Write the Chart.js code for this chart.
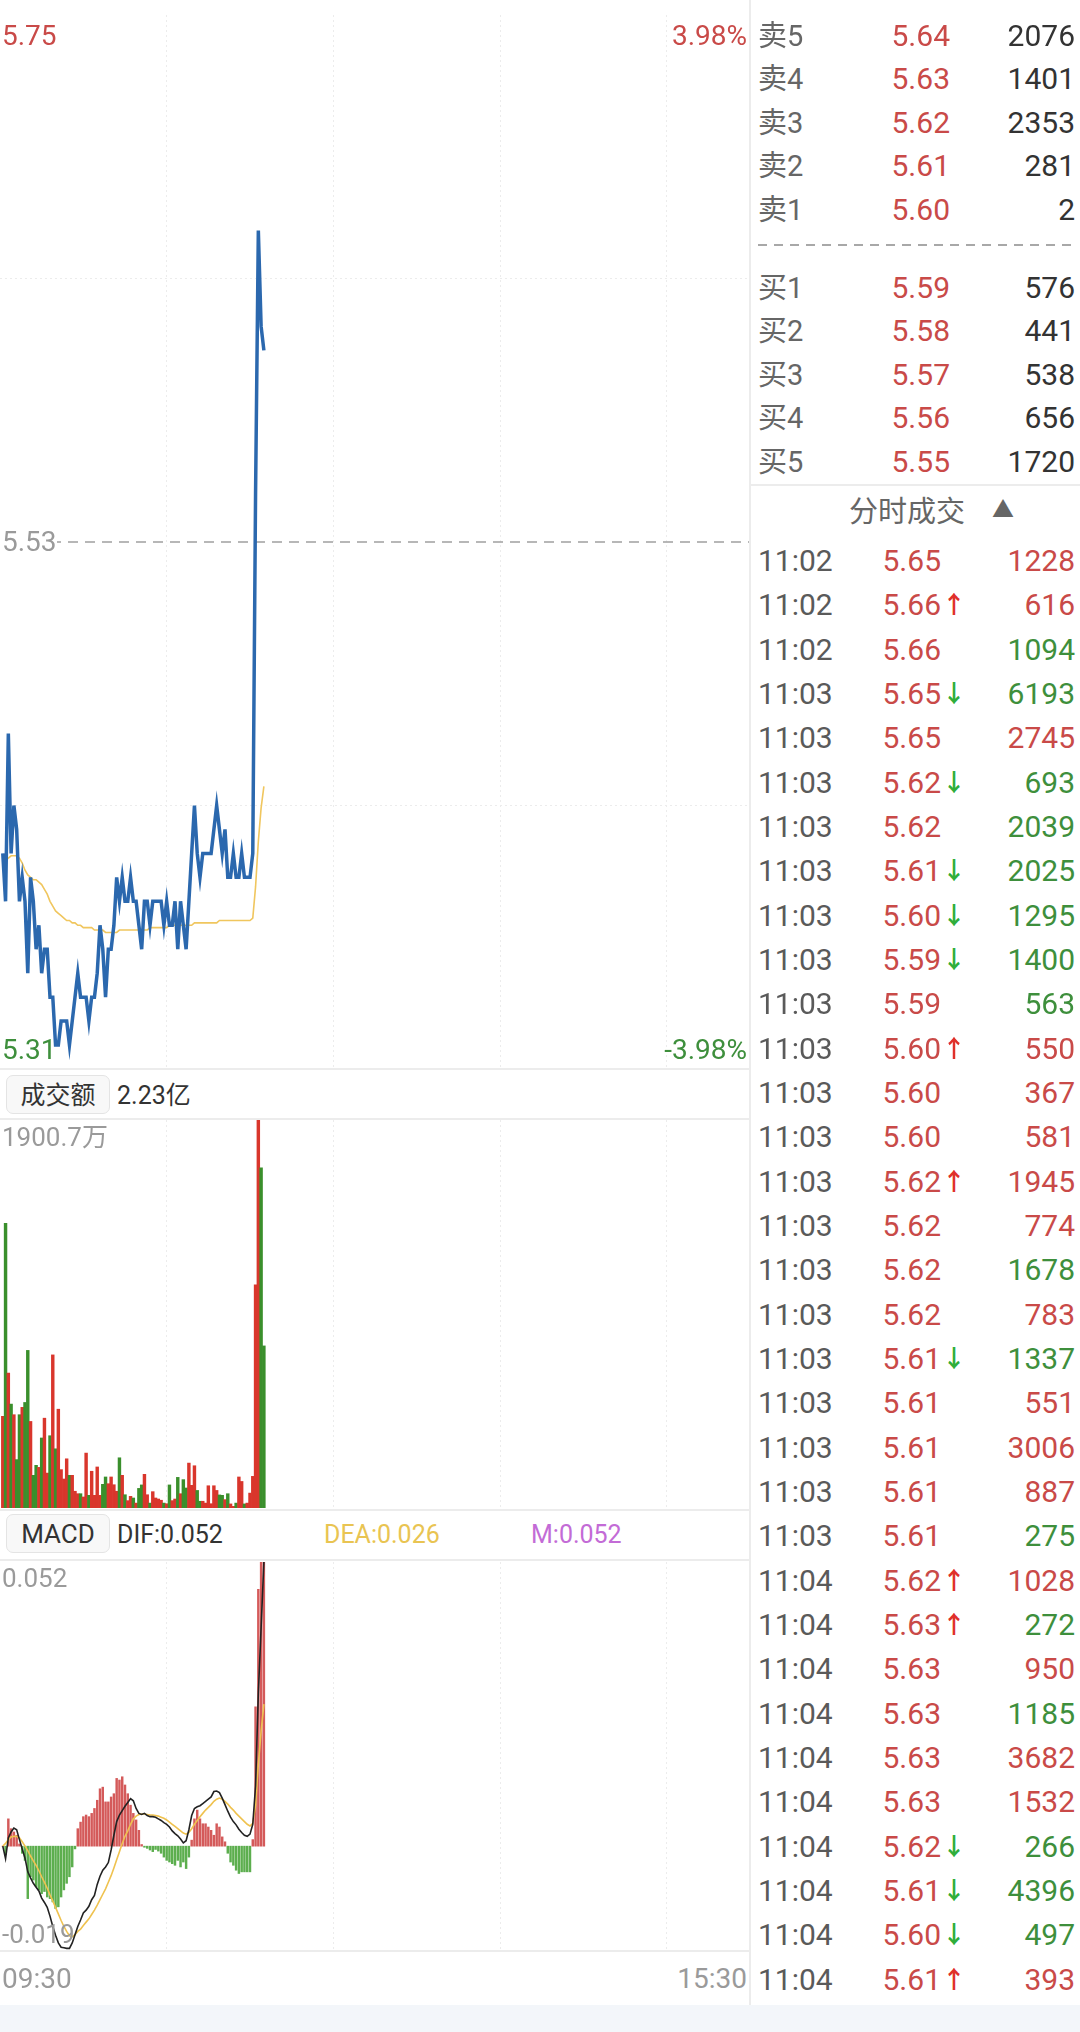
<!DOCTYPE html>
<html lang="zh-CN">
<head>
<meta charset="UTF-8">
<title>分时</title>
<script src="https://cdn.jsdelivr.net/npm/chart.js@4.4.0/dist/chart.umd.min.js"></script>
<style>
  body { margin:0; width:1080px; height:2032px; position:relative; background:#fff; overflow:hidden;
         font-family: Roboto, "Noto Sans CJK SC", sans-serif; }
  canvas { position:absolute; left:0; }
  .t { position:absolute; white-space:nowrap; line-height:1; transform:translateY(-50%); }
  .hl { position:absolute; height:2px; background:#ececec; }
  .box { position:absolute; left:6px; width:104px; height:39px; border:1px solid #e4e4e4; border-radius:7px;
         background:#f8f8f8; color:#333; font-size:25px; line-height:39px; text-align:center; box-sizing:border-box; }
</style>
</head>
<body>
<canvas id="price" width="750" height="1054" style="top:15px"></canvas>
<canvas id="vol" width="750" height="388" style="top:1120px"></canvas>
<canvas id="macd" width="750" height="388" style="top:1562px"></canvas>

<div class="hl" style="left:0;width:750px;top:1068px"></div>
<div class="hl" style="left:0;width:750px;top:1118px"></div>
<div class="hl" style="left:0;width:750px;top:1509px"></div>
<div class="hl" style="left:0;width:750px;top:1559px"></div>
<div class="hl" style="left:0;width:750px;top:1950px"></div>
<div class="hl" style="left:750px;width:330px;top:484px"></div>
<div style="position:absolute;left:749px;top:0;width:2px;height:2005px;background:#ececec"></div>
<div style="position:absolute;left:758px;top:244px;width:314px;height:2px;background:repeating-linear-gradient(90deg,#a8a8a8 0 9px,transparent 9px 16px)"></div>
<div style="position:absolute;left:0;top:2005px;width:1080px;height:27px;background:#f3f6fa"></div>

<div class="box" style="top:1075px">成交额</div>
<div class="box" style="top:1514px;font-size:26px">MACD</div>

<script>
// 分时价格 09:31 起每分钟一个点
const prices = [
  5.40,5.38,5.45,5.40,5.42,5.41,5.38,5.39,5.38,5.35,
  5.39,5.38,5.36,5.37,5.35,5.36,5.36,5.34,5.34,5.32,
  5.32,5.33,5.33,5.33,5.32,5.33,5.34,5.35,5.34,5.34,
  5.34,5.33,5.34,5.34,5.35,5.37,5.36,5.34,5.36,5.36,
  5.37,5.39,5.38,5.39,5.38,5.38,5.39,5.38,5.38,5.37,
  5.36,5.38,5.38,5.37,5.38,5.38,5.38,5.38,5.37,5.38,
  5.37,5.37,5.38,5.36,5.38,5.37,5.36,5.38,5.40,5.42,
  5.40,5.39,5.40,5.40,5.40,5.40,5.41,5.42,5.41,5.40,
  5.41,5.39,5.39,5.40,5.39,5.39,5.40,5.39,5.39,5.39,
  5.40,5.55,5.66,5.62,5.61
];
const avgPrices = [
  5.396,5.397,5.398,5.399,5.399,5.399,5.398,5.396,5.393,5.391,
  5.390,5.389,5.389,5.388,5.387,5.385,5.383,5.380,5.378,5.376,
  5.375,5.374,5.373,5.372,5.372,5.371,5.371,5.370,5.370,5.369,
  5.369,5.369,5.369,5.368,5.368,5.368,5.368,5.367,5.367,5.367,
  5.367,5.367,5.368,5.368,5.368,5.368,5.368,5.368,5.368,5.368,
  5.368,5.368,5.368,5.369,5.369,5.369,5.369,5.369,5.369,5.369,
  5.370,5.370,5.370,5.370,5.370,5.370,5.370,5.370,5.370,5.371,
  5.371,5.371,5.371,5.371,5.371,5.371,5.371,5.371,5.372,5.372,
  5.372,5.372,5.372,5.372,5.372,5.372,5.372,5.372,5.372,5.372,
  5.373,5.386,5.405,5.419,5.428
];
// 成交额（万）
const volumes = [
  449,1395,661,509,457,237,457,493,517,772,
  424,160,209,199,343,440,171,354,750,290,
  484,188,142,241,160,160,82,70,70,54,
  269,62,180,62,201,62,116,152,119,152,
  114,82,246,160,65,36,57,49,24,96,
  113,165,65,24,80,49,44,38,24,21,
  113,36,44,150,70,139,98,220,111,207,
  86,33,33,24,109,21,109,86,64,62,
  41,70,20,8,24,152,130,20,24,73,
  155,1093,1900.7,1667,794
];
const dif = [
  0,-0.0023,0.0015,0.0026,0.0033,0.0030,0.0012,-0.0005,-0.0022,-0.0047,
  -0.0058,-0.0068,-0.0075,-0.0082,-0.0095,-0.0103,-0.0112,-0.0128,-0.0147,-0.0163,
  -0.0177,-0.0185,-0.0186,-0.0187,-0.0187,-0.0177,-0.0162,-0.0147,-0.0135,-0.0122,
  -0.0117,-0.0110,-0.0098,-0.0090,-0.0070,-0.0055,-0.0044,-0.0038,-0.0030,-0.0007,
  0.0020,0.0045,0.0057,0.0065,0.0073,0.0080,0.0087,0.0083,0.0069,0.0060,
  0.0058,0.0060,0.0056,0.0054,0.0054,0.0053,0.0050,0.0047,0.0043,0.0040,
  0.0035,0.0028,0.0023,0.0019,0.0013,0.0006,0.0010,0.0030,0.0056,0.0069,
  0.0072,0.0074,0.0078,0.0082,0.0086,0.0090,0.0100,0.0101,0.0098,0.0088,
  0.0076,0.0064,0.0053,0.0045,0.0039,0.0031,0.0025,0.0020,0.0018,0.0022,
  0.0040,0.0110,0.0280,0.0400,0.0520
];
const dea = [
  0,0.0005,0.0012,0.0017,0.0018,0.0018,0.0015,0.0008,0,-0.0008,
  -0.0018,-0.0027,-0.0035,-0.0045,-0.0056,-0.0066,-0.0077,-0.0089,-0.0100,-0.0112,
  -0.0124,-0.0136,-0.0147,-0.0156,-0.0164,-0.0166,-0.0162,-0.0156,-0.0152,-0.0145,
  -0.0139,-0.0133,-0.0125,-0.0117,-0.0108,-0.0098,-0.0088,-0.0078,-0.0066,-0.0054,
  -0.0040,-0.0025,-0.0010,0.0005,0.0018,0.0028,0.0040,0.0050,0.0055,0.0058,
  0.0059,0.0059,0.0058,0.0057,0.0057,0.0056,0.0055,0.0053,0.0051,0.0048,
  0.0044,0.0040,0.0036,0.0032,0.0028,0.0024,0.0022,0.0025,0.0032,0.0040,
  0.0047,0.0054,0.0060,0.0066,0.0071,0.0076,0.0082,0.0086,0.0088,0.0086,
  0.0082,0.0077,0.0071,0.0066,0.0060,0.0055,0.0050,0.0045,0.0040,0.0037,
  0.0042,0.0075,0.0150,0.0210,0.0260
];
const macdBars = [
  0,-0.0015,0.0050,0.0032,0.0026,0.0020,0.0004,-0.0013,-0.0026,-0.0096,
  -0.0056,-0.0062,-0.0074,-0.0080,-0.0087,-0.0083,-0.0093,-0.0096,-0.0102,-0.0114,
  -0.0111,-0.0093,-0.0080,-0.0068,-0.0056,-0.0038,-0.0005,0.0032,0.0044,0.0054,
  0.0057,0.0054,0.0060,0.0069,0.0084,0.0105,0.0108,0.0081,0.0081,0.0090,
  0.0096,0.0124,0.0121,0.0127,0.0112,0.0096,0.0075,0.0060,0.0048,0.0029,
  0.0003,-0.0002,-0.0004,-0.0007,-0.0010,-0.0006,-0.0009,-0.0013,-0.0020,-0.0026,
  -0.0029,-0.0032,-0.0035,-0.0026,-0.0038,-0.0029,-0.0041,-0.0020,0.0011,0.0050,
  0.0066,0.0050,0.0041,0.0041,0.0035,0.0029,0.0020,0.0041,0.0035,0.0017,
  0.0008,-0.0013,-0.0029,-0.0035,-0.0044,-0.0050,-0.0047,-0.0047,-0.0047,-0.0047,
  0.0012,0.0255,0.0470,0.0520,0.0520
];
const prevClose = 5.53;
const priceMin = 5.31, priceMax = 5.75;
const volMax = 1900.7;
const macdMin = -0.019, macdMax = 0.052;
const sessionMinutes = 270;
const timeGrid = [60, 120, 180, 240];

// 五档
const askLabels = ['卖5','卖4','卖3','卖2','卖1'];
const askPrices = ['5.64','5.63','5.62','5.61','5.60'];
const askVols = ['2076','1401','2353','281','2'];
const bidLabels = ['买1','买2','买3','买4','买5'];
const bidPrices = ['5.59','5.58','5.57','5.56','5.55'];
const bidVols = ['576','441','538','656','1720'];

// 分时成交
const tradeTimes = ['11:02','11:02','11:02',
  '11:03','11:03','11:03','11:03','11:03','11:03','11:03','11:03','11:03','11:03',
  '11:03','11:03','11:03','11:03','11:03','11:03','11:03','11:03','11:03','11:03',
  '11:04','11:04','11:04','11:04','11:04','11:04','11:04','11:04','11:04','11:04'];
const tradePrices = ['5.65','5.66','5.66','5.65','5.65','5.62','5.62','5.61','5.60','5.59','5.59',
  '5.60','5.60','5.60','5.62','5.62','5.62','5.62','5.61','5.61','5.61','5.61','5.61',
  '5.62','5.63','5.63','5.63','5.63','5.63','5.62','5.61','5.60','5.61'];
const tradeArrows = ['','↑','','↓','','↓','','↓','↓','↓','','↑','','','↑','','','','↓','','','','',
  '↑','↑','','','','','↓','↓','↓','↑'];
const tradeVols = ['1228','616','1094','6193','2745','693','2039','2025','1295','1400','563',
  '550','367','581','1945','774','1678','783','1337','551','3006','887','275',
  '1028','272','950','1185','3682','1532','266','4396','497','393'];
const tradeSides = ['b','b','s','s','b','s','s','s','s','s','s','b','b','b','b','b','s','b','s','b','b','b','s',
  'b','s','b','s','b','b','s','s','s','b'];

const RED = '#c94a48', GREEN = '#3e8f3c', GRAY = '#9a9a9a';

function txt(s, x, y, size, color, align) {
  const d = document.createElement('div');
  d.className = 't';
  d.textContent = s;
  d.style.fontSize = size + 'px';
  d.style.color = color;
  d.style.top = y + 'px';
  if (align === 'right') d.style.right = (1080 - x) + 'px';
  else d.style.left = x + 'px';
  document.body.appendChild(d);
  return d;
}

// 图表上的标签
txt('5.75', 2, 36, 28, RED);
txt('3.98%', 747, 36, 28, RED, 'right');
const pc = txt('5.53', 0, 542, 28, GRAY);
pc.style.background = '#fff';
pc.style.paddingLeft = '2px';
txt('5.31', 2, 1050, 28, GREEN);
txt('-3.98%', 747, 1050, 28, GREEN, 'right');
txt('2.23亿', 117, 1095, 25, '#333');
txt('1900.7万', 2, 1137, 26, GRAY);
txt('DIF:0.052', 117, 1534, 25, '#333');
txt('DEA:0.026', 324, 1534, 25, '#e9c452');
txt('M:0.052', 531, 1534, 25, '#c36bd6');
txt('0.052', 2, 1578, 26, GRAY);
txt('-0.019', 2, 1934, 26, GRAY);
txt('09:30', 2, 1979, 28, GRAY);
txt('15:30', 747, 1979, 28, GRAY, 'right');

// 五档盘口
askLabels.forEach((l, k) => {
  const y = 36 + k * 43.4;
  txt(l, 758, y, 29, '#666');
  txt(askPrices[k], 950, y, 30, RED, 'right');
  txt(askVols[k], 1075, y, 30, '#333', 'right');
});
bidLabels.forEach((l, k) => {
  const y = 288 + k * 43.4;
  txt(l, 758, y, 29, '#666');
  txt(bidPrices[k], 950, y, 30, RED, 'right');
  txt(bidVols[k], 1075, y, 30, '#333', 'right');
});
txt('分时成交', 849, 512, 29, '#666');
txt('▲', 992, 510, 22, '#666');

tradeTimes.forEach((t, k) => {
  const y = 561 + k * 44.33;
  txt(t, 758, y, 30, '#5a5a5a');
  txt(tradePrices[k], 941, y, 30, RED, 'right');
  if (tradeArrows[k]) {
    const a = txt(tradeArrows[k], 942, y, 24, tradeArrows[k] === '↑' ? '#e0302a' : '#2fae3a');
    a.style.fontWeight = 'bold';
  }
  txt(tradeVols[k], 1075, y, 30, tradeSides[k] === 'b' ? RED : GREEN, 'right');
});

// 公共坐标轴设置
function timeAxis() {
  return {
    type: 'linear', min: 0, max: sessionMinutes, offset: false,
    afterBuildTicks: s => { s.ticks = timeGrid.map(v => ({ value: v })); },
    grid: { color: '#ececec', lineWidth: 1, drawTicks: false, offset: false },
    border: { display: false, dash: [2, 3] },
    ticks: { display: false }
  };
}
const baseOpts = {
  responsive: false, animation: false, events: [],
  layout: { padding: 0 },
  plugins: { legend: { display: false }, tooltip: { enabled: false } }
};
const pts = arr => arr.map((v, i) => ({ x: i + 1, y: v }));

new Chart(document.getElementById('price'), {
  type: 'line',
  data: { datasets: [
    { data: pts(prices), borderColor: '#2b68ae', borderWidth: 3.5, pointRadius: 0, tension: 0, order: 1, clip: false },
    { data: pts(avgPrices), borderColor: '#f0c65e', borderWidth: 1.6, pointRadius: 0, tension: 0, order: 2 },
    { data: [{ x: 0, y: prevClose }, { x: sessionMinutes, y: prevClose }], borderColor: '#a0a0a0',
      borderWidth: 1.5, borderDash: [10, 7], pointRadius: 0, order: 3 }
  ] },
  options: Object.assign({}, baseOpts, {
    scales: {
      x: timeAxis(),
      y: { min: priceMin, max: priceMax,
           afterBuildTicks: s => { s.ticks = [priceMin + (priceMax - priceMin) / 4, priceMax - (priceMax - priceMin) / 4].map(v => ({ value: v })); },
           grid: { color: '#ececec', drawTicks: false }, border: { display: false, dash: [2, 3] },
           ticks: { display: false } }
    }
  })
});

const volColors = prices.map((p, i) => (i > 0 && p < prices[i - 1]) ? '#3a8f2c' : '#d9362c');
new Chart(document.getElementById('vol'), {
  type: 'bar',
  data: { datasets: [
    { data: pts(volumes), backgroundColor: volColors, barPercentage: 1, categoryPercentage: 1, borderWidth: 0 }
  ] },
  options: Object.assign({}, baseOpts, {
    scales: { x: timeAxis(), y: { min: 0, max: volMax, display: false } }
  })
});

new Chart(document.getElementById('macd'), {
  type: 'bar',
  data: { datasets: [
    { type: 'line', data: pts(dif), borderColor: '#222', borderWidth: 1.6, pointRadius: 0, order: 1, clip: false },
    { type: 'line', data: pts(dea), borderColor: '#efc24f', borderWidth: 1.6, pointRadius: 0, order: 2, clip: false },
    { data: pts(macdBars), backgroundColor: macdBars.map(v => v >= 0 ? '#d45a5a' : '#5cae4e'),
      barThickness: 1.8, borderWidth: 0, order: 3 }
  ] },
  options: Object.assign({}, baseOpts, {
    scales: { x: timeAxis(), y: { min: macdMin, max: macdMax, display: false } }
  })
});
</script>
</body>
</html>
